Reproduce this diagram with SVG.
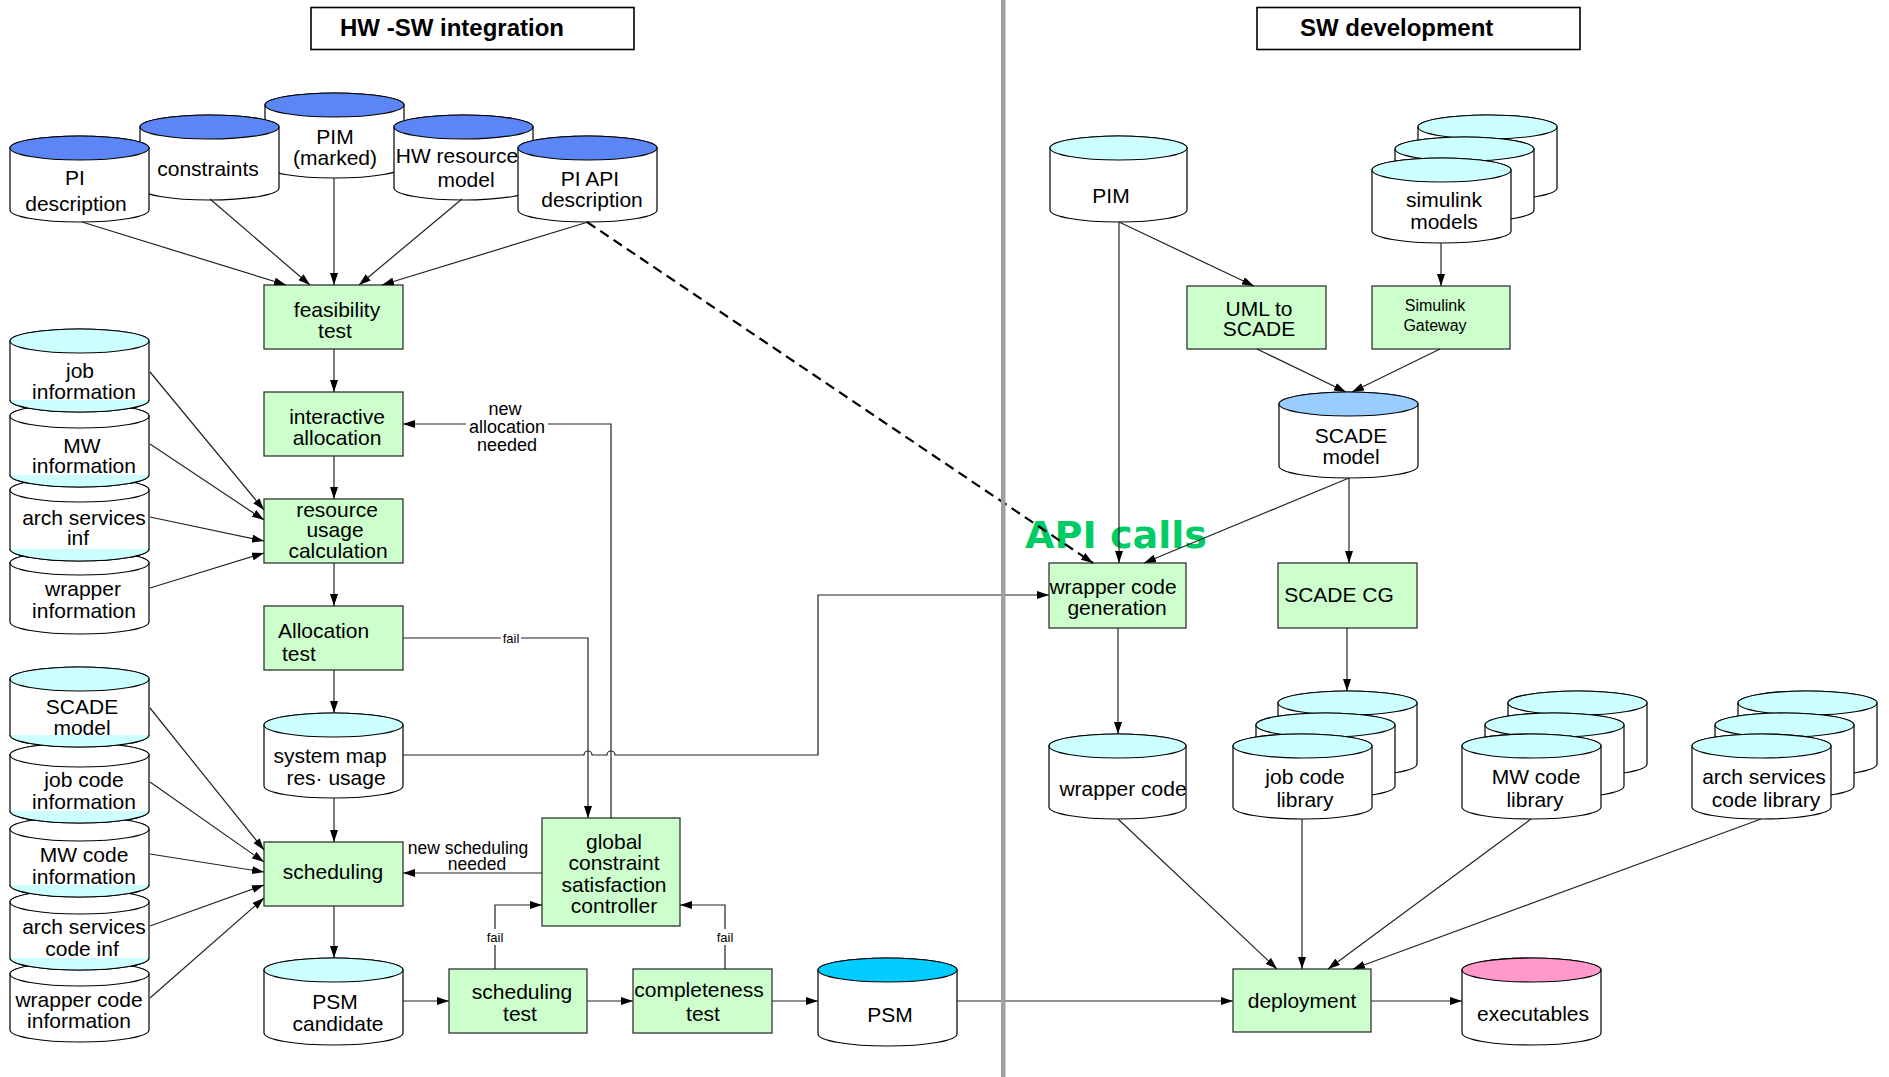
<svg xmlns="http://www.w3.org/2000/svg" width="1889" height="1077" viewBox="0 0 1889 1077">
<defs>
<style>
  .t { font-family: "Liberation Sans", Arial, sans-serif; font-size: 21px; fill: #000; text-anchor: middle; }
  .ts { font-family: "Liberation Sans", Arial, sans-serif; font-size: 16px; fill: #000; text-anchor: middle; }
  .tl { font-family: "Liberation Sans", Arial, sans-serif; font-size: 18px; fill: #000; text-anchor: middle; }
  .tn { font-family: "Liberation Sans", Arial, sans-serif; font-size: 17.5px; fill: #000; text-anchor: middle; }
  .tf { font-family: "Liberation Sans", Arial, sans-serif; font-size: 13px; fill: #000; text-anchor: middle; }
  .hd { font-family: "Liberation Sans", Arial, sans-serif; font-size: 24px; font-weight: bold; fill: #000; }
  .hbox { fill: #fff; stroke: #000; stroke-width: 1.6; }
  .box { fill: #ccffcc; stroke: #333; stroke-width: 1.3; }
  .body { fill: #fff; stroke: #000; stroke-width: 1.2; }
  .lid { stroke: #000; stroke-width: 1.2; }
  .blue { fill: #5c86f6; }
  .cyan { fill: #ccffff; }
  .white { fill: #fff; }
  .sky { fill: #99ccff; }
  .deep { fill: #00ccff; }
  .pink { fill: #ff99cc; }
  .band { fill: #ccffff; stroke: #000; stroke-width: 1.2; }
  .c { fill: none; stroke: #222; stroke-width: 1.2; }
  .a { marker-end: url(#ah); }
  .dash { fill: none; stroke: #000; stroke-width: 2.2; stroke-dasharray: 10 6; marker-end: url(#ah); }
  .bg { fill: #fff; }
</style>
<marker id="ah" viewBox="0 0 12 8" refX="12" refY="4" markerWidth="12" markerHeight="8" markerUnits="userSpaceOnUse" orient="auto">
  <path d="M0,0 L12,4 L0,8 z" fill="#000"/>
</marker>
</defs>

<rect x="0" y="0" width="1889" height="1077" fill="#fff"/>

<!-- section headers -->
<g id="hdr-hwsw">
  <rect class="hbox" x="311" y="7.5" width="323" height="42"/>
  <text class="hd" x="340" y="36">HW -SW integration</text>
</g>
<g id="hdr-sw">
  <rect class="hbox" x="1257" y="7.5" width="323" height="42"/>
  <text class="hd" x="1300" y="36">SW development</text>
</g>

<!-- ===== HW-SW integration: inputs ===== -->
<g id="pim-marked">
  <path class="body" d="M265,105 A69.5,12 0 0 1 404,105 V166 A69.5,12 0 0 1 265,166 Z"/>
  <ellipse class="lid blue" cx="334.5" cy="105" rx="69.5" ry="12"/>
  <text class="t"><tspan x="335" y="144">PIM</tspan><tspan x="335" y="165">(marked)</tspan></text>
</g>
<g id="constraints">
  <path class="body" d="M140,127 A69.5,12 0 0 1 279,127 V188 A69.5,12 0 0 1 140,188 Z"/>
  <ellipse class="lid blue" cx="209.5" cy="127" rx="69.5" ry="12"/>
  <text class="t" x="208" y="176">constraints</text>
</g>
<g id="hw-resource-model">
  <path class="body" d="M394,127 A69.5,12 0 0 1 533,127 V188 A69.5,12 0 0 1 394,188 Z"/>
  <ellipse class="lid blue" cx="463.5" cy="127" rx="69.5" ry="12"/>
  <text class="t"><tspan x="457" y="163">HW resource</tspan><tspan x="466" y="187">model</tspan></text>
</g>
<g id="pi-description">
  <path class="body" d="M10,148 A69.5,12 0 0 1 149,148 V210 A69.5,12 0 0 1 10,210 Z"/>
  <ellipse class="lid blue" cx="79.5" cy="148" rx="69.5" ry="12"/>
  <text class="t"><tspan x="75" y="185">PI</tspan><tspan x="76" y="211">description</tspan></text>
</g>
<g id="pi-api-description">
  <path class="body" d="M518,148 A69.5,12 0 0 1 657,148 V210 A69.5,12 0 0 1 518,210 Z"/>
  <ellipse class="lid blue" cx="587.5" cy="148" rx="69.5" ry="12"/>
  <text class="t"><tspan x="590" y="186">PI API</tspan><tspan x="592" y="207">description</tspan></text>
</g>

<!-- stacked information stores feeding resource usage -->
<g id="wrapper-information">
  <path class="body" d="M10,563 A69.5,12 0 0 1 149,563 V622 A69.5,12 0 0 1 10,622 Z"/>
  <ellipse class="lid white" cx="79.5" cy="563" rx="69.5" ry="12"/>
  <text class="t"><tspan x="83" y="596">wrapper</tspan><tspan x="84" y="618">information</tspan></text>
</g>
<g id="arch-services-inf">
  <path class="body" d="M10,490 A69.5,12 0 0 1 149,490 V549 A69.5,12 0 0 1 10,549 Z"/>
  <ellipse class="lid white" cx="79.5" cy="490" rx="69.5" ry="12"/>
  <path class="band" d="M10,549 A69.5,12 0 0 0 149,549"/>
  <text class="t"><tspan x="84" y="525">arch services</tspan><tspan x="78" y="545">inf</tspan></text>
</g>
<g id="mw-information">
  <path class="body" d="M10,416 A69.5,12 0 0 1 149,416 V475 A69.5,12 0 0 1 10,475 Z"/>
  <ellipse class="lid white" cx="79.5" cy="416" rx="69.5" ry="12"/>
  <path class="band" d="M10,475 A69.5,12 0 0 0 149,475"/>
  <text class="t"><tspan x="82" y="453">MW</tspan><tspan x="84" y="473">information</tspan></text>
</g>
<g id="job-information">
  <path class="body" d="M10,341 A69.5,12 0 0 1 149,341 V400 A69.5,12 0 0 1 10,400 Z"/>
  <ellipse class="lid cyan" cx="79.5" cy="341" rx="69.5" ry="12"/>
  <path class="band" d="M10,400 A69.5,12 0 0 0 149,400"/>
  <text class="t"><tspan x="80" y="378">job</tspan><tspan x="84" y="399">information</tspan></text>
</g>

<!-- stacked code stores feeding scheduling -->
<g id="wrapper-code-information">
  <path class="body" d="M10,974 A69.5,12 0 0 1 149,974 V1030 A69.5,12 0 0 1 10,1030 Z"/>
  <ellipse class="lid white" cx="79.5" cy="974" rx="69.5" ry="12"/>
  <text class="t"><tspan x="79" y="1007">wrapper code</tspan><tspan x="79" y="1028">information</tspan></text>
</g>
<g id="arch-services-code-inf">
  <path class="body" d="M10,902 A69.5,12 0 0 1 149,902 V958 A69.5,12 0 0 1 10,958 Z"/>
  <ellipse class="lid white" cx="79.5" cy="902" rx="69.5" ry="12"/>
  <path class="band" d="M10,958 A69.5,12 0 0 0 149,958"/>
  <text class="t"><tspan x="84" y="934">arch services</tspan><tspan x="82" y="956">code inf</tspan></text>
</g>
<g id="mw-code-information">
  <path class="body" d="M10,829 A69.5,12 0 0 1 149,829 V885 A69.5,12 0 0 1 10,885 Z"/>
  <ellipse class="lid white" cx="79.5" cy="829" rx="69.5" ry="12"/>
  <path class="band" d="M10,885 A69.5,12 0 0 0 149,885"/>
  <text class="t"><tspan x="84" y="862">MW code</tspan><tspan x="84" y="884">information</tspan></text>
</g>
<g id="job-code-information">
  <path class="body" d="M10,755 A69.5,12 0 0 1 149,755 V811 A69.5,12 0 0 1 10,811 Z"/>
  <ellipse class="lid white" cx="79.5" cy="755" rx="69.5" ry="12"/>
  <path class="band" d="M10,811 A69.5,12 0 0 0 149,811"/>
  <text class="t"><tspan x="84" y="787">job code</tspan><tspan x="84" y="809">information</tspan></text>
</g>
<g id="scade-model-left">
  <path class="body" d="M10,679 A69.5,12 0 0 1 149,679 V735 A69.5,12 0 0 1 10,735 Z"/>
  <ellipse class="lid cyan" cx="79.5" cy="679" rx="69.5" ry="12"/>
  <path class="band" d="M10,735 A69.5,12 0 0 0 149,735"/>
  <text class="t"><tspan x="82" y="714">SCADE</tspan><tspan x="82" y="735">model</tspan></text>
</g>

<!-- integration process chain -->
<g id="feasibility-test">
  <rect class="box" x="264" y="285" width="139" height="64"/>
  <text class="t"><tspan x="337" y="317">feasibility</tspan><tspan x="335" y="338">test</tspan></text>
</g>
<g id="interactive-allocation">
  <rect class="box" x="264" y="392" width="139" height="64"/>
  <text class="t"><tspan x="337" y="424">interactive</tspan><tspan x="337" y="445">allocation</tspan></text>
</g>
<g id="resource-usage-calculation">
  <rect class="box" x="264" y="499" width="139" height="64"/>
  <text class="t"><tspan x="337" y="517">resource</tspan><tspan x="335" y="537">usage</tspan><tspan x="338" y="558">calculation</tspan></text>
</g>
<g id="allocation-test">
  <rect class="box" x="264" y="606" width="139" height="64"/>
  <text class="t" style="text-anchor:start"><tspan x="278" y="638">Allocation</tspan><tspan x="282" y="661">test</tspan></text>
</g>
<g id="system-map">
  <path class="body" d="M264,725 A69.5,12 0 0 1 403,725 V786 A69.5,12 0 0 1 264,786 Z"/>
  <ellipse class="lid cyan" cx="333.5" cy="725" rx="69.5" ry="12"/>
  <text class="t"><tspan x="330" y="763">system map</tspan><tspan x="336" y="785">res· usage</tspan></text>
</g>
<g id="scheduling">
  <rect class="box" x="264" y="842" width="139" height="64"/>
  <text class="t" x="333" y="879">scheduling</text>
</g>
<g id="psm-candidate">
  <path class="body" d="M264,970 A69.5,12 0 0 1 403,970 V1033 A69.5,12 0 0 1 264,1033 Z"/>
  <ellipse class="lid cyan" cx="333.5" cy="970" rx="69.5" ry="12"/>
  <text class="t"><tspan x="335" y="1009">PSM</tspan><tspan x="338" y="1031">candidate</tspan></text>
</g>
<g id="global-constraint-controller">
  <rect class="box" x="542" y="818" width="138" height="108"/>
  <text class="t"><tspan x="614" y="849">global</tspan><tspan x="614" y="870">constraint</tspan><tspan x="614" y="892">satisfaction</tspan><tspan x="614" y="913">controller</tspan></text>
</g>
<g id="scheduling-test">
  <rect class="box" x="449" y="969" width="138" height="64"/>
  <text class="t"><tspan x="522" y="999">scheduling</tspan><tspan x="520" y="1021">test</tspan></text>
</g>
<g id="completeness-test">
  <rect class="box" x="633" y="969" width="139" height="64"/>
  <text class="t"><tspan x="699" y="997">completeness</tspan><tspan x="703" y="1021">test</tspan></text>
</g>
<g id="psm">
  <path class="body" d="M818,970 A69.5,12 0 0 1 957,970 V1034 A69.5,12 0 0 1 818,1034 Z"/>
  <ellipse class="lid deep" cx="887.5" cy="970" rx="69.5" ry="12"/>
  <text class="t" x="890" y="1022">PSM</text>
</g>

<!-- ===== SW development ===== -->
<g id="pim">
  <path class="body" d="M1050,148 A68.5,12 0 0 1 1187,148 V210 A68.5,12 0 0 1 1050,210 Z"/>
  <ellipse class="lid cyan" cx="1118.5" cy="148" rx="68.5" ry="12"/>
  <text class="t" x="1111" y="203">PIM</text>
</g>
<g id="simulink-models">
  <path class="body" d="M1418,127 A69.5,12 0 0 1 1557,127 V188 A69.5,12 0 0 1 1418,188 Z"/>
  <ellipse class="lid cyan" cx="1487.5" cy="127" rx="69.5" ry="12"/>
  <path class="body" d="M1395,149 A69.5,12 0 0 1 1534,149 V210 A69.5,12 0 0 1 1395,210 Z"/>
  <ellipse class="lid cyan" cx="1464.5" cy="149" rx="69.5" ry="12"/>
  <path class="body" d="M1372,170 A69.5,12 0 0 1 1511,170 V231 A69.5,12 0 0 1 1372,231 Z"/>
  <ellipse class="lid cyan" cx="1441.5" cy="170" rx="69.5" ry="12"/>
  <text class="t"><tspan x="1444" y="207">simulink</tspan><tspan x="1444" y="229">models</tspan></text>
</g>
<g id="uml-to-scade">
  <rect class="box" x="1187" y="286" width="139" height="63"/>
  <text class="t"><tspan x="1259" y="316">UML to</tspan><tspan x="1259" y="336">SCADE</tspan></text>
</g>
<g id="simulink-gateway">
  <rect class="box" x="1372" y="286" width="138" height="63"/>
  <text class="ts"><tspan x="1435" y="311">Simulink</tspan><tspan x="1435" y="331">Gateway</tspan></text>
</g>
<g id="scade-model">
  <path class="body" d="M1279,404 A69.5,12 0 0 1 1418,404 V466 A69.5,12 0 0 1 1279,466 Z"/>
  <ellipse class="lid sky" cx="1348.5" cy="404" rx="69.5" ry="12"/>
  <text class="t"><tspan x="1351" y="443">SCADE</tspan><tspan x="1351" y="464">model</tspan></text>
</g>
<g id="wrapper-code-generation">
  <rect class="box" x="1049" y="563" width="137" height="65"/>
  <text class="t"><tspan x="1113" y="594">wrapper code</tspan><tspan x="1117" y="615">generation</tspan></text>
</g>
<g id="scade-cg">
  <rect class="box" x="1278" y="563" width="139" height="65"/>
  <text class="t" x="1339" y="602">SCADE CG</text>
</g>
<g id="wrapper-code">
  <path class="body" d="M1049,746 A68.5,12 0 0 1 1186,746 V807 A68.5,12 0 0 1 1049,807 Z"/>
  <ellipse class="lid cyan" cx="1117.5" cy="746" rx="68.5" ry="12"/>
  <text class="t" x="1123" y="796">wrapper code</text>
</g>
<g id="job-code-library">
  <path class="body" d="M1278,703 A69.5,12 0 0 1 1417,703 V764 A69.5,12 0 0 1 1278,764 Z"/>
  <ellipse class="lid cyan" cx="1347.5" cy="703" rx="69.5" ry="12"/>
  <path class="body" d="M1256,725 A69.5,12 0 0 1 1395,725 V786 A69.5,12 0 0 1 1256,786 Z"/>
  <ellipse class="lid cyan" cx="1325.5" cy="725" rx="69.5" ry="12"/>
  <path class="body" d="M1233,746 A69.5,12 0 0 1 1372,746 V807 A69.5,12 0 0 1 1233,807 Z"/>
  <ellipse class="lid cyan" cx="1302.5" cy="746" rx="69.5" ry="12"/>
  <text class="t"><tspan x="1305" y="784">job code</tspan><tspan x="1305" y="807">library</tspan></text>
</g>
<g id="mw-code-library">
  <path class="body" d="M1508,703 A69.5,12 0 0 1 1647,703 V764 A69.5,12 0 0 1 1508,764 Z"/>
  <ellipse class="lid cyan" cx="1577.5" cy="703" rx="69.5" ry="12"/>
  <path class="body" d="M1485,725 A69.5,12 0 0 1 1624,725 V786 A69.5,12 0 0 1 1485,786 Z"/>
  <ellipse class="lid cyan" cx="1554.5" cy="725" rx="69.5" ry="12"/>
  <path class="body" d="M1462,746 A69.5,12 0 0 1 1601,746 V807 A69.5,12 0 0 1 1462,807 Z"/>
  <ellipse class="lid cyan" cx="1531.5" cy="746" rx="69.5" ry="12"/>
  <text class="t"><tspan x="1536" y="784">MW code</tspan><tspan x="1535" y="807">library</tspan></text>
</g>
<g id="arch-services-code-library">
  <path class="body" d="M1738,703 A69.5,12 0 0 1 1877,703 V764 A69.5,12 0 0 1 1738,764 Z"/>
  <ellipse class="lid cyan" cx="1807.5" cy="703" rx="69.5" ry="12"/>
  <path class="body" d="M1715,725 A69.5,12 0 0 1 1854,725 V786 A69.5,12 0 0 1 1715,786 Z"/>
  <ellipse class="lid cyan" cx="1784.5" cy="725" rx="69.5" ry="12"/>
  <path class="body" d="M1692,746 A69.5,12 0 0 1 1831,746 V807 A69.5,12 0 0 1 1692,807 Z"/>
  <ellipse class="lid cyan" cx="1761.5" cy="746" rx="69.5" ry="12"/>
  <text class="t"><tspan x="1764" y="784">arch services</tspan><tspan x="1766" y="807">code library</tspan></text>
</g>
<g id="deployment">
  <rect class="box" x="1233" y="969" width="138" height="63"/>
  <text class="t" x="1302" y="1008">deployment</text>
</g>
<g id="executables">
  <path class="body" d="M1462,970 A69.5,12 0 0 1 1601,970 V1033 A69.5,12 0 0 1 1462,1033 Z"/>
  <ellipse class="lid pink" cx="1531.5" cy="970" rx="69.5" ry="12"/>
  <text class="t" x="1533" y="1021">executables</text>
</g>

<!-- annotation on the API link -->
<text id="api-calls" x="1025" y="548" textLength="182" lengthAdjust="spacingAndGlyphs" style="font-family:'DejaVu Sans', sans-serif; font-size:38px; font-weight:bold; fill:#00cc66;">API calls</text>

<!-- ===== connectors ===== -->
<g id="connectors">
  <path class="c a" d="M82,222 L286,285"/>
  <path class="c a" d="M210,199 L310,285"/>
  <path class="c a" d="M334,178 L334,285"/>
  <path class="c a" d="M462,199 L359,285"/>
  <path class="c a" d="M588,222 L382,285"/>
  <path class="c a" d="M334,349 V392"/>
  <path class="c a" d="M334,456 V499"/>
  <path class="c a" d="M334,563 V606"/>
  <path class="c a" d="M334,670 V713"/>
  <path class="c a" d="M334,798 V842"/>
  <path class="c a" d="M334,906 V958"/>
  <path class="c a" d="M150,372 L264,510"/>
  <path class="c a" d="M150,444 L264,520"/>
  <path class="c a" d="M150,517 L264,541"/>
  <path class="c a" d="M150,588 L264,553"/>
  <path class="c a" d="M150,708 L264,850"/>
  <path class="c a" d="M150,782 L264,862"/>
  <path class="c a" d="M150,854 L264,872"/>
  <path class="c a" d="M150,926 L264,885"/>
  <path class="c a" d="M150,998 L264,898"/>
  <path class="c a" d="M403,1001 H449"/>
  <path class="c a" d="M587,1001 H633"/>
  <path class="c a" d="M772,1001 H818"/>
  <path class="c a" d="M957,1001 H1233"/>
  <path class="c a" d="M1371,1001 H1462"/>
  <path class="c a" d="M495,969 V905 H542"/>
  <path class="c a" d="M725,969 V905 H680"/>
  <path class="c a" d="M542,873 H403"/>
  <path class="c a" d="M403,638 H588 V818"/>
  <path class="c a" d="M611,818 V424 H403"/>
  <path class="c a" d="M403,755 H584 A4,4 0 0 1 592,755 H607 A4,4 0 0 1 615,755 H818 V595 H1049"/>
  <path class="dash" d="M587,222 L1093,563"/>
  <path class="c a" d="M1119,222 V563"/>
  <path class="c a" d="M1119,222 L1254,286"/>
  <path class="c a" d="M1441,243 V286"/>
  <path class="c a" d="M1257,349 L1346,392"/>
  <path class="c a" d="M1440,349 L1352,392"/>
  <path class="c a" d="M1349,478 L1144,563"/>
  <path class="c a" d="M1349,478 V563"/>
  <path class="c a" d="M1118,628 V734"/>
  <path class="c a" d="M1347,628 V691"/>
  <path class="c a" d="M1118,819 L1277,969"/>
  <path class="c a" d="M1302,819 V969"/>
  <path class="c a" d="M1531,819 L1328,969"/>
  <path class="c a" d="M1761,819 L1353,969"/>

  <!-- connector labels -->
  <rect class="bg" x="501" y="630" width="20" height="16"/>
  <text class="tf" x="511" y="643">fail</text>
  <rect class="bg" x="485" y="929" width="20" height="16"/>
  <text class="tf" x="495" y="942">fail</text>
  <rect class="bg" x="715" y="929" width="20" height="16"/>
  <text class="tf" x="725" y="942">fail</text>
  <rect class="bg" x="466" y="419" width="82" height="18"/>
  <text class="tl"><tspan x="505" y="415">new</tspan><tspan x="507" y="433">allocation</tspan><tspan x="507" y="451">needed</tspan></text>
  <text class="tn"><tspan x="468" y="854">new scheduling</tspan><tspan x="477" y="870">needed</tspan></text>
</g>

<!-- lane divider -->
<rect id="divider" x="1001" y="0" width="4.5" height="1077" fill="#a0a0a0"/>
</svg>
